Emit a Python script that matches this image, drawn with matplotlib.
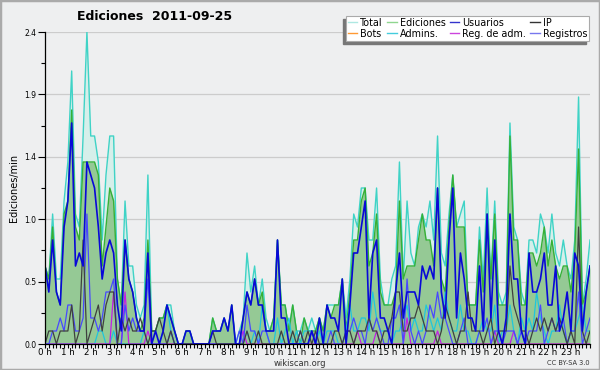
import numpy as np
import matplotlib
matplotlib.use('Agg')
import matplotlib.pyplot as plt
from matplotlib.lines import Line2D
from matplotlib.patches import Rectangle

# edits per 10-minute bin, 2011-09-25 (144 bins)
total = [
    6, 5, 10, 5, 5, 11, 14, 21, 10, 9, 16, 24, 16, 16, 14, 8, 13, 16, 16, 5, 3, 11, 6, 6,
    3, 2, 3, 13, 1, 1, 2, 2, 3, 3, 1, 0, 0, 1, 1, 0, 0, 0, 0, 0, 2, 1, 1, 2,
    1, 3, 0, 1, 2, 7, 4, 6, 3, 5, 2, 1, 2, 8, 3, 3, 1, 3, 1, 1, 2, 1, 2, 1,
    2, 1, 3, 3, 3, 3, 5, 2, 5, 10, 9, 12, 12, 8, 8, 12, 5, 3, 3, 5, 6, 14, 5, 11,
    7, 6, 9, 10, 9, 11, 8, 16, 7, 6, 10, 13, 9, 10, 11, 3, 3, 3, 9, 5, 12, 5, 11, 4,
    3, 4, 17, 9, 8, 4, 3, 8, 8, 7, 10, 9, 7, 10, 7, 6, 8, 6, 5, 8, 19, 3, 5, 8]
ediciones = [
    6, 5, 9, 4, 3, 10, 11, 18, 9, 8, 14, 14, 14, 14, 13, 6, 9, 12, 11, 5, 3, 8, 5, 4,
    2, 1, 2, 8, 1, 1, 2, 2, 3, 2, 1, 0, 0, 1, 1, 0, 0, 0, 0, 0, 2, 1, 1, 2,
    1, 3, 0, 0, 2, 4, 3, 5, 3, 4, 1, 1, 2, 8, 3, 3, 1, 3, 1, 0, 2, 1, 1, 1,
    2, 1, 3, 2, 3, 3, 5, 1, 4, 8, 8, 11, 12, 6, 7, 10, 4, 3, 3, 3, 4, 11, 5, 6,
    6, 6, 8, 10, 8, 8, 6, 12, 5, 4, 9, 13, 9, 9, 9, 3, 3, 3, 8, 4, 10, 5, 10, 3,
    3, 3, 16, 8, 8, 3, 3, 7, 7, 6, 7, 9, 6, 8, 6, 5, 6, 6, 4, 7, 15, 3, 4, 6]
usuarios = [
    6, 4, 8, 4, 3, 9, 11, 17, 6, 7, 6, 14, 13, 12, 9, 5, 7, 8, 7, 3, 1, 8, 5, 4,
    2, 1, 1, 7, 0, 1, 0, 1, 3, 2, 1, 0, 0, 1, 1, 0, 0, 0, 0, 0, 1, 1, 1, 2,
    1, 3, 0, 0, 2, 4, 3, 5, 3, 3, 1, 1, 1, 8, 2, 2, 0, 0, 0, 0, 0, 0, 1, 0,
    2, 0, 3, 2, 2, 1, 5, 0, 3, 7, 7, 9, 11, 2, 7, 8, 2, 2, 1, 0, 4, 7, 2, 4,
    4, 4, 3, 6, 5, 6, 5, 12, 4, 2, 8, 12, 2, 7, 5, 2, 2, 1, 6, 1, 10, 2, 8, 1,
    0, 2, 10, 5, 5, 1, 0, 7, 4, 4, 5, 7, 3, 3, 6, 1, 2, 4, 1, 7, 6, 1, 4, 6]
ip = [
    0, 1, 1, 0, 1, 1, 1, 3, 0, 1, 8, 0, 1, 2, 3, 1, 3, 4, 4, 0, 2, 1, 2, 1,
    1, 2, 1, 0, 1, 1, 2, 1, 0, 1, 0, 0, 0, 0, 0, 0, 0, 0, 0, 0, 1, 0, 0, 0,
    0, 0, 0, 0, 0, 1, 0, 0, 1, 0, 0, 0, 0, 0, 1, 0, 0, 1, 0, 1, 0, 1, 0, 1,
    0, 0, 0, 0, 1, 1, 0, 1, 1, 0, 1, 1, 1, 2, 1, 1, 0, 1, 1, 2, 4, 4, 1, 1,
    2, 2, 3, 2, 1, 1, 1, 0, 1, 3, 2, 1, 0, 1, 1, 4, 1, 1, 1, 0, 1, 2, 0, 1,
    1, 1, 6, 3, 2, 1, 1, 0, 1, 2, 1, 2, 1, 2, 1, 2, 1, 0, 1, 0, 9, 1, 0, 1]
bots = [0] * 144
admins = [
    0, 0, 0, 0, 0, 0, 0, 0, 0, 0, 0, 0, 0, 0, 1, 1, 0, 0, 1, 0, 0, 0, 0, 0,
    0, 0, 1, 0, 0, 0, 0, 1, 3, 1, 0, 0, 0, 0, 0, 0, 0, 0, 0, 0, 0, 0, 0, 0,
    0, 0, 0, 0, 0, 1, 0, 1, 0, 3, 1, 0, 0, 2, 0, 1, 2, 0, 1, 0, 1, 1, 1, 0,
    1, 0, 1, 1, 1, 0, 0, 1, 3, 1, 1, 2, 2, 1, 4, 2, 1, 1, 1, 0, 1, 1, 2, 3,
    1, 2, 1, 1, 3, 2, 1, 2, 1, 4, 2, 1, 1, 3, 1, 1, 0, 0, 1, 2, 1, 1, 3, 0,
    1, 1, 3, 1, 0, 2, 1, 2, 1, 4, 2, 1, 0, 1, 1, 3, 1, 0, 1, 1, 2, 3, 1, 1]
reg_adm = [
    0, 0, 0, 0, 0, 0, 0, 0, 0, 0, 0, 0, 0, 0, 0, 0, 0, 0, 4, 0, 0, 4, 0, 0,
    0, 0, 0, 1, 0, 0, 0, 0, 0, 0, 0, 0, 0, 0, 0, 0, 0, 0, 0, 0, 0, 0, 0, 0,
    0, 0, 0, 0, 1, 0, 0, 0, 0, 0, 0, 0, 0, 0, 0, 0, 0, 0, 0, 0, 0, 0, 0, 0,
    0, 0, 0, 0, 0, 0, 0, 0, 0, 0, 1, 0, 0, 0, 0, 1, 0, 0, 0, 0, 0, 0, 0, 2,
    0, 0, 0, 0, 0, 0, 0, 1, 0, 0, 0, 0, 0, 0, 0, 0, 0, 0, 0, 0, 0, 0, 1, 0,
    0, 0, 0, 1, 0, 0, 0, 0, 0, 0, 0, 0, 0, 0, 0, 0, 0, 0, 0, 0, 0, 0, 0, 0]
registros = [
    0, 0, 1, 1, 2, 1, 3, 3, 1, 1, 2, 10, 2, 2, 1, 2, 4, 4, 5, 0, 0, 3, 1, 2,
    1, 1, 1, 5, 0, 0, 0, 0, 0, 1, 0, 0, 0, 0, 0, 0, 0, 0, 0, 0, 0, 0, 0, 0,
    0, 0, 0, 1, 0, 3, 1, 1, 0, 1, 1, 0, 0, 0, 0, 0, 0, 0, 0, 1, 0, 0, 1, 0,
    0, 0, 0, 1, 0, 0, 0, 1, 1, 2, 1, 1, 0, 2, 1, 2, 1, 0, 0, 2, 2, 3, 0, 5,
    1, 0, 1, 0, 1, 3, 2, 4, 2, 2, 1, 0, 0, 1, 2, 0, 0, 0, 1, 1, 2, 0, 1, 1,
    0, 1, 1, 1, 0, 1, 0, 1, 1, 1, 3, 0, 1, 2, 1, 1, 2, 0, 1, 1, 4, 0, 1, 2]

hour_labels = ['%d h' % h for h in range(24)]

bg = '#eeeff0'
fig = plt.figure(figsize=(6, 3.7), dpi=100, facecolor=bg)
ax = fig.add_axes([45 / 600, 26 / 370, 545 / 600, 312 / 370], facecolor=bg)

x = np.arange(len(total)) / 6.0
per_min = lambda s: np.array(s) / 10.0

ax.fill_between(x, per_min(total), color='#d6efea', lw=0, zorder=1)
ax.fill_between(x, per_min(ediciones), color='#95c995', lw=0, zorder=1.1)
ax.plot(x, per_min(total), color='#3fd3c6', lw=1, zorder=2)
ax.plot(x, per_min(ediciones), color='#36b036', lw=1, zorder=2.1)
ax.plot(x, per_min(bots), color='#ff9922', lw=0.9, zorder=1.5)
ax.plot(x, per_min(admins), color='#1fc6dc', lw=0.9, zorder=2.2)
ax.plot(x, per_min(reg_adm), color='#c41ee6', lw=0.9, zorder=2.2)
ax.plot(x, per_min(registros), color='#4848ff', lw=0.9, zorder=2.3)
ax.plot(x, per_min(ip), color='#404040', lw=0.9, zorder=2.3)
ax.plot(x, per_min(usuarios), color='#0808d8', lw=1.2, zorder=2.4)

ax.set_xlim(0, 143 / 6.0)
ax.set_ylim(0, 2.4)
yt = np.linspace(0, 2.4, 6)
ax.set_yticks(yt)
ax.set_yticklabels(['%.1f' % v for v in yt], fontsize=5.5)
ax.set_yticks((yt[:-1] + yt[1:]) / 2, minor=True)
ax.set_xticks(np.arange(24))
ax.set_xticklabels(hour_labels, fontsize=6.3)
ax.set_xticks(np.arange(144) / 6.0, minor=True)
ax.tick_params(axis='y', which='major', length=5, width=0.8, pad=1)
ax.tick_params(axis='y', which='minor', length=3, width=0.8)
ax.tick_params(axis='x', which='both', length=3, width=0.8, pad=0)
ax.yaxis.grid(True, color='#cccccc', lw=0.9)
ax.set_axisbelow(True)
for s in ['top', 'right']:
    ax.spines[s].set_visible(False)
ax.spines['left'].set_linewidth(0.9)
ax.spines['bottom'].set_linewidth(0.9)
ax.set_ylabel('Ediciones/min', fontsize=7, labelpad=4)

fig.text(155 / 600, 1 - 17 / 370, 'Ediciones  2011-09-25', fontsize=9,
         fontweight='bold', ha='center', va='center')
fig.text(300 / 600, 1 - 363 / 370, 'wikiscan.org', fontsize=6,
         color='#333333', ha='center', va='center')
fig.text(590 / 600, 1 - 363 / 370, 'CC BY-SA 3.0', fontsize=4.8,
         color='#333333', ha='right', va='center')

leg_colors = [('Total', '#aee8e2'), ('Bots', '#ff9933'),
              ('Ediciones', '#8fd68f'), ('Admins.', '#44ccdd'),
              ('Usuarios', '#3333cc'), ('Reg. de adm.', '#cc44dd'),
              ('IP', '#333333'), ('Registros', '#7777ee')]
handles = [Line2D([], [], color=c, lw=1) for _, c in leg_colors]
leg = fig.legend(handles, [n for n, _ in leg_colors], ncol=4,
                 loc='upper right', bbox_to_anchor=(594 / 600, 1 - 11 / 370),
                 fontsize=6.9, handlelength=1.0, handletextpad=0.3,
                 columnspacing=0.45, labelspacing=0.1, borderpad=0.2,
                 frameon=True, fancybox=False, framealpha=1)
leg.get_frame().set_edgecolor('#aaaaaa')
leg.get_frame().set_linewidth(0.8)
fig.canvas.draw()
bb = leg.get_window_extent().transformed(fig.transFigure.inverted())
fig.patches.append(Rectangle((bb.x0 - 3 / 600, bb.y0 - 3 / 370), bb.width, bb.height,
                             transform=fig.transFigure, color='#777777', zorder=0))
leg.set_zorder(5)

# outer frame
fig.patches.append(Rectangle((0, 0), 1, 1, transform=fig.transFigure, fill=False,
                             edgecolor='#aaaaaa', lw=2.5, zorder=10))

fig.savefig('out.png', dpi=100, facecolor=bg)
